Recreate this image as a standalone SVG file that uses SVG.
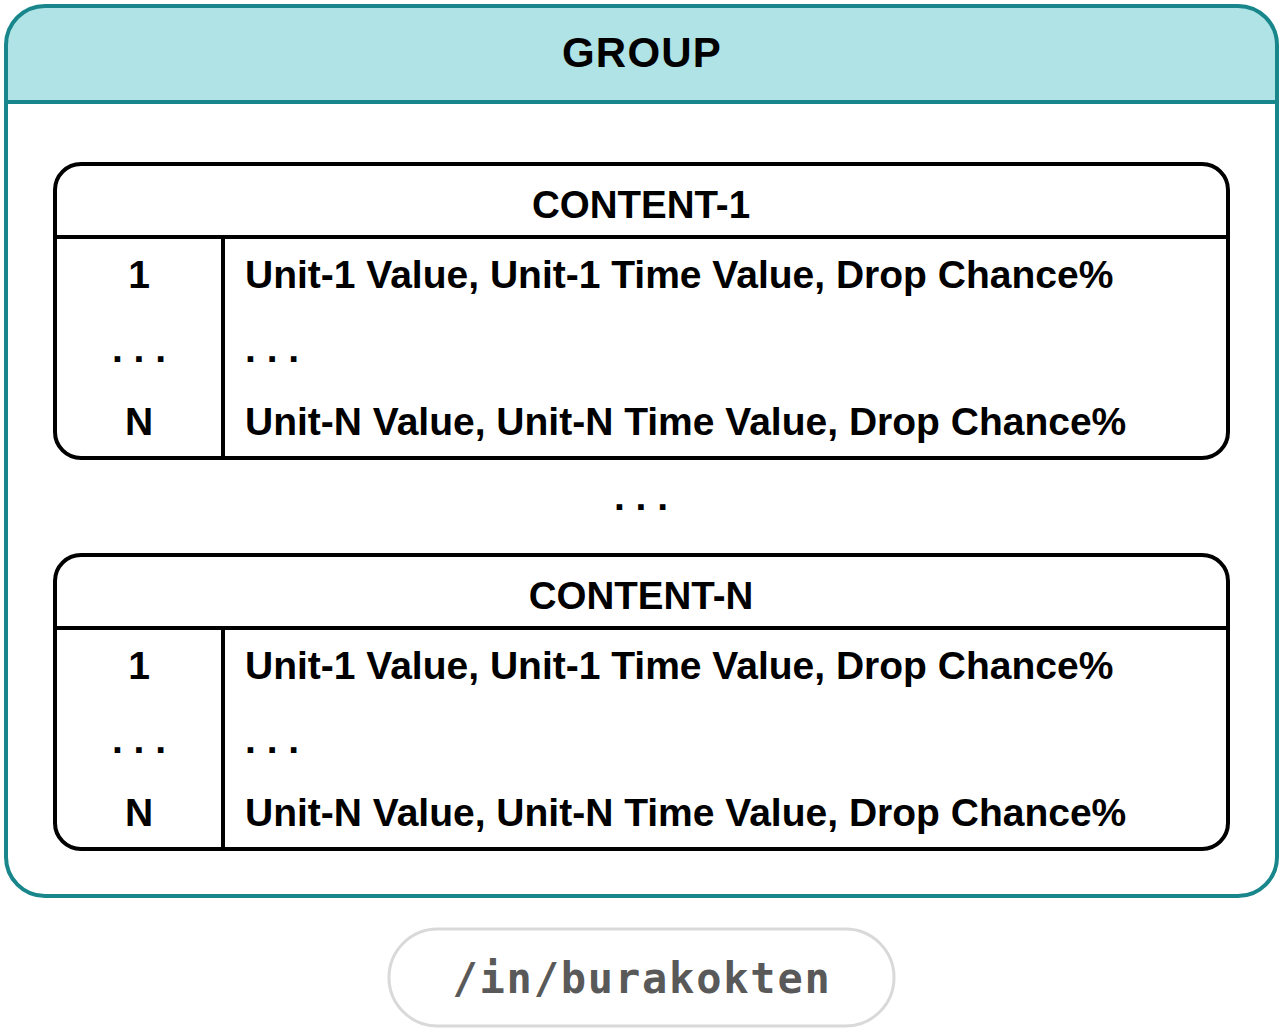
<svg xmlns="http://www.w3.org/2000/svg" width="1284" height="1034" viewBox="0 0 1284 1034">
<style>
.t{font-family:"Liberation Sans",Arial,sans-serif;font-weight:bold;fill:#000}
.h{font-size:42px;letter-spacing:1.2px}
.c{font-size:39px}
.hd{font-size:38.5px}
.box{fill:none;stroke:#000;stroke-width:4}
.ln{stroke:#000;stroke-width:4}
.mono{font-family:"DejaVu Sans Mono",monospace;font-weight:bold;font-size:42px;fill:#595959;letter-spacing:1.8px}
</style>
<rect width="1284" height="1034" fill="#fff"/>
<g id="group">
<path d="M6 102 V45 Q6 6 45 6 H1238 Q1277 6 1277 45 V102 Z" fill="#b0e3e6"/>
<rect x="6" y="6" width="1271" height="890" rx="39" fill="none" stroke="#18868a" stroke-width="4"/>
<line x1="6" y1="102" x2="1277" y2="102" stroke="#18868a" stroke-width="4"/>
<text class="t h" x="642" y="67" text-anchor="middle">GROUP</text>
</g>
<g id="content-1">
<rect class="box" x="55" y="164" width="1173" height="294" rx="26" fill="#fff"/>
<line class="ln" x1="55" y1="237" x2="1228" y2="237"/>
<line class="ln" x1="223" y1="237" x2="223" y2="458"/>
<text class="t hd" x="641" y="218" text-anchor="middle">CONTENT-1</text>
<text class="t c" x="139" y="288" text-anchor="middle">1</text>
<text class="t c" x="139" y="362" text-anchor="middle">. . .</text>
<text class="t c" x="139" y="435" text-anchor="middle">N</text>
<text class="t c" x="245" y="288">Unit-1 Value, Unit-1 Time Value, Drop Chance%</text>
<text class="t c" x="245" y="362">. . .</text>
<text class="t c" x="245" y="435">Unit-N Value, Unit-N Time Value, Drop Chance%</text>
</g>
<g id="ellipsis">
<text class="t c" x="641" y="510" text-anchor="middle">. . .</text>
</g>
<g id="content-n">
<rect class="box" x="55" y="555" width="1173" height="294" rx="26" fill="#fff"/>
<line class="ln" x1="55" y1="628" x2="1228" y2="628"/>
<line class="ln" x1="223" y1="628" x2="223" y2="849"/>
<text class="t hd" x="641" y="609" text-anchor="middle">CONTENT-N</text>
<text class="t c" x="139" y="679" text-anchor="middle">1</text>
<text class="t c" x="139" y="753" text-anchor="middle">. . .</text>
<text class="t c" x="139" y="826" text-anchor="middle">N</text>
<text class="t c" x="245" y="679">Unit-1 Value, Unit-1 Time Value, Drop Chance%</text>
<text class="t c" x="245" y="753">. . .</text>
<text class="t c" x="245" y="826">Unit-N Value, Unit-N Time Value, Drop Chance%</text>
</g>
<g id="footer">
<rect x="389" y="929" width="505" height="97" rx="48.5" fill="#fff" stroke="#d9d9d9" stroke-width="3"/>
<text class="mono" x="642" y="993" text-anchor="middle">/in/burakokten</text>
</g>
<g id="connectors"></g>
</svg>
